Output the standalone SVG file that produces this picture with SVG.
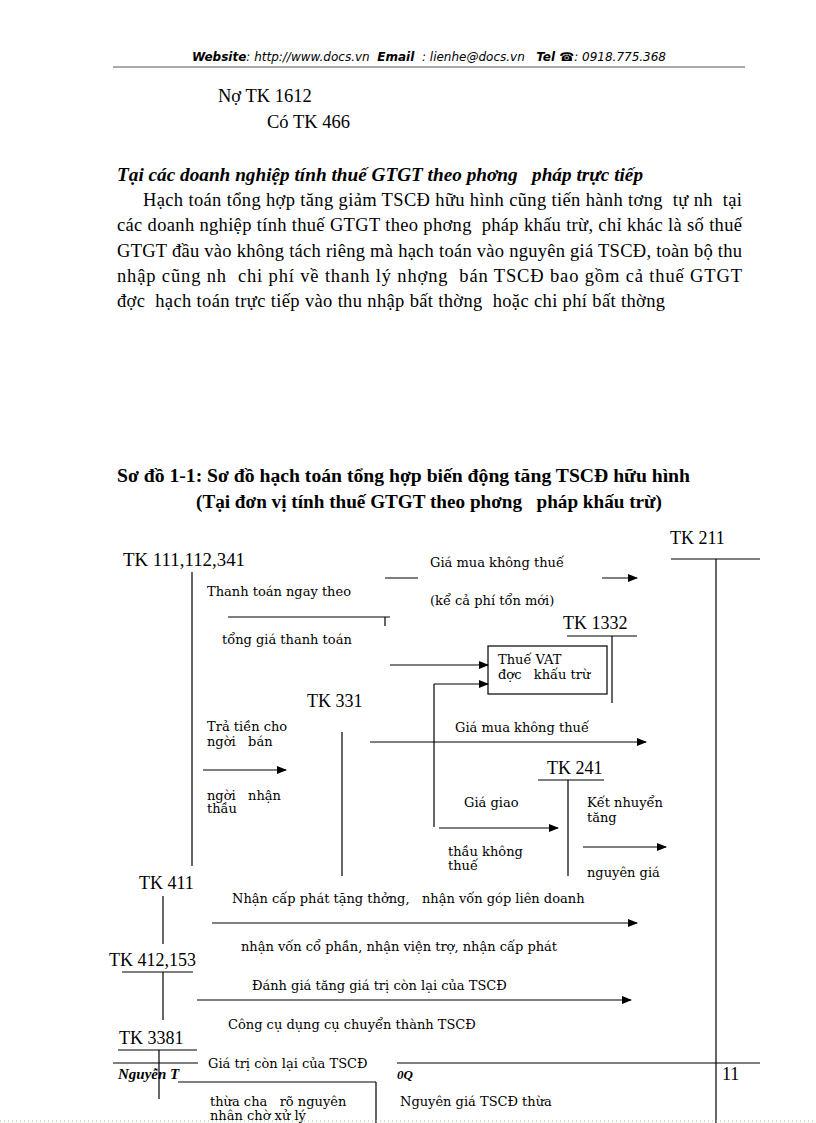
<svg xmlns="http://www.w3.org/2000/svg" width="816" height="1123" viewBox="0 0 816 1123">
<defs>
<marker id="ah" markerWidth="10" markerHeight="8" refX="9" refY="4" orient="auto" markerUnits="userSpaceOnUse">
<path d="M0,0 L10,4 L0,8 Z" fill="#000"/>
</marker>
<style>
text{white-space:pre;fill:#000}
.hd{font-size:12px;font-style:italic}
.hb{font-weight:bold}
.t{font-size:18.5px}
.bi{font-size:19px;font-style:italic;font-weight:bold}
.b{font-size:18px;font-weight:bold}
.tk{font-size:18px}
.s{font-size:13px}
.ln{stroke:#000;stroke-width:1.2;fill:none}
.ar{stroke:#000;stroke-width:1.2;fill:none;marker-end:url(#ah)}
</style>
</defs>
<rect width="816" height="1123" fill="#fff"/>

<g id="header" font-family="DejaVu Sans, Liberation Sans, sans-serif">
<text x="192" y="61" class="hd" textLength="474" lengthAdjust="spacingAndGlyphs"><tspan class="hb">Website</tspan>: http://www.docs.vn  <tspan class="hb">Email</tspan>  : lienhe@docs.vn   <tspan class="hb">Tel ☎</tspan>: 0918.775.368</text>
<line x1="113" y1="67" x2="745" y2="67" stroke="#555" stroke-width="1"/>
</g>

<g id="text-body" font-family="Liberation Serif, Times New Roman, serif">
<text x="218" y="102" class="t">Nợ TK 1612</text>
<text x="267" y="128" class="t">Có TK 466</text>
<text x="117" y="181" class="bi" textLength="526" lengthAdjust="spacingAndGlyphs">Tại các doanh nghiệp tính thuế GTGT theo phơng   pháp trực tiếp</text>
<text x="143" y="206" class="t" textLength="599" lengthAdjust="spacing">Hạch toán tổng hợp tăng giảm TSCĐ hữu hình cũng tiến hành tơng  tự nh  tại</text>
<text x="117" y="231" class="t" textLength="625" lengthAdjust="spacing">các doanh nghiệp tính thuế GTGT theo phơng  pháp khấu trừ, chỉ khác là số thuế</text>
<text x="117" y="257" class="t" textLength="625" lengthAdjust="spacing">GTGT đầu vào không tách riêng mà hạch toán vào nguyên giá TSCĐ, toàn bộ thu</text>
<text x="117" y="282" class="t" textLength="625" lengthAdjust="spacing">nhập cũng nh  chi phí về thanh lý nhợng  bán TSCĐ bao gồm cả thuế GTGT</text>
<text x="117" y="307" class="t" textLength="548" lengthAdjust="spacing">đợc  hạch toán trực tiếp vào thu nhập bất thờng  hoặc chi phí bất thờng</text>
<text x="117" y="482" class="b" textLength="573" lengthAdjust="spacingAndGlyphs">Sơ đồ 1-1: Sơ đồ hạch toán tổng hợp biến động tăng TSCĐ hữu hình</text>
<text x="196" y="508" class="b" textLength="466" lengthAdjust="spacingAndGlyphs">(Tại đơn vị tính thuế GTGT theo phơng   pháp khấu trừ)</text>
</g>

<g font-family="Liberation Serif, Times New Roman, serif">
<g id="tk211">
<text x="670" y="544" class="tk">TK 211</text>
<line x1="671" y1="559" x2="760" y2="559" class="ln"/>
<line x1="716" y1="559" x2="716" y2="1123" class="ln"/>
</g>
<g id="tk111">
<text x="123" y="566" class="tk" textLength="122" lengthAdjust="spacingAndGlyphs">TK 111,112,341</text>
<line x1="192" y1="572" x2="192" y2="866" class="ln"/>
</g>
<g id="tk1332">
<text x="563" y="629" class="tk">TK 1332</text>
<line x1="567" y1="636" x2="637" y2="636" class="ln"/>
<line x1="612" y1="636" x2="612" y2="703" class="ln"/>
</g>
<g id="tk331">
<text x="307" y="707" class="tk">TK 331</text>
<line x1="342" y1="732" x2="342" y2="876" class="ln"/>
</g>
<g id="tk241">
<text x="547" y="774" class="tk">TK 241</text>
<line x1="538" y1="780" x2="604" y2="780" class="ln"/>
<line x1="568" y1="780" x2="568" y2="876" class="ln"/>
</g>
<g id="tk411">
<text x="139" y="889" class="tk">TK 411</text>
<line x1="163" y1="896" x2="163" y2="944" class="ln"/>
</g>
<g id="tk412">
<text x="109" y="966" class="tk">TK 412,153</text>
<line x1="122" y1="972" x2="193" y2="972" class="ln"/>
<line x1="163" y1="972" x2="163" y2="1020" class="ln"/>
</g>
<g id="tk3381">
<text x="119" y="1044" class="tk">TK 3381</text>
<line x1="118" y1="1050" x2="197" y2="1050" class="ln"/>
<line x1="159" y1="1050" x2="159" y2="1099" class="ln"/>
</g>
</g>

<g id="vat-box" font-family="DejaVu Serif, serif">
<rect x="488" y="646" width="119" height="48" fill="#fff" stroke="#000" stroke-width="1.2"/>
<text x="498" y="664" class="s">Thuế VAT</text>
<text x="498" y="679" class="s">đợc   khấu trừ</text>
</g>

<g id="connectors">
<line x1="385" y1="578" x2="418" y2="578" class="ln"/>
<line x1="602" y1="578" x2="637" y2="578" class="ar"/>
<line x1="228" y1="617" x2="390" y2="617" class="ln"/>
<line x1="385" y1="617" x2="385" y2="626" class="ln"/>
<line x1="390" y1="665" x2="488" y2="665" class="ar"/>
<line x1="434" y1="684" x2="488" y2="684" class="ar"/>
<line x1="434" y1="684" x2="434" y2="827" class="ln"/>
<line x1="439" y1="828" x2="558" y2="828" class="ar"/>
<line x1="203" y1="770" x2="286" y2="770" class="ar"/>
<line x1="370" y1="742" x2="646" y2="742" class="ar"/>
<line x1="583" y1="847" x2="666" y2="847" class="ar"/>
<line x1="212" y1="923" x2="637" y2="923" class="ar"/>
<line x1="197" y1="1000" x2="631" y2="1000" class="ar"/>
<line x1="178" y1="1082" x2="376" y2="1082" class="ln"/>
<line x1="376" y1="1082" x2="376" y2="1123" class="ln"/>
</g>

<g id="labels" font-family="DejaVu Serif, serif">
<text x="430" y="567" class="s">Giá mua không thuế</text>
<text x="207" y="596" class="s">Thanh toán ngay theo</text>
<text x="430" y="605" class="s">(kể cả phí tổn mới)</text>
<text x="222" y="644" class="s">tổng giá thanh toán</text>
<text x="207" y="731" class="s">Trả tiền cho</text>
<text x="207" y="746" class="s">ngời   bán</text>
<text x="455" y="732" class="s">Giá mua không thuế</text>
<text x="207" y="800" class="s">ngời   nhận</text>
<text x="207" y="813" class="s">thầu</text>
<text x="464" y="807" class="s">Giá giao</text>
<text x="587" y="807" class="s">Kết nhuyển</text>
<text x="587" y="822" class="s">tăng</text>
<text x="448" y="856" class="s">thầu không</text>
<text x="448" y="870" class="s">thuế</text>
<text x="587" y="877" class="s">nguyên giá</text>
<text x="232" y="903" class="s">Nhận cấp phát tặng thởng,   nhận vốn góp liên doanh</text>
<text x="241" y="951" class="s">nhận vốn cổ phần, nhận viện trợ, nhận cấp phát</text>
<text x="252" y="990" class="s">Đánh giá tăng giá trị còn lại của TSCĐ</text>
<text x="228" y="1029" class="s">Công cụ dụng cụ chuyển thành TSCĐ</text>
<text x="208" y="1068" class="s">Giá trị còn lại của TSCĐ</text>
<text x="210" y="1106" class="s">thừa cha   rõ nguyên</text>
<text x="210" y="1120" class="s">nhân chờ xử lý</text>
<text x="400" y="1106" class="s">Nguyên giá TSCĐ thừa</text>
</g>

<g id="footer" font-family="Liberation Serif, Times New Roman, serif">
<line x1="113" y1="1063" x2="198" y2="1063" class="ln"/>
<line x1="397" y1="1063" x2="760" y2="1063" class="ln"/>
<text x="118" y="1079" font-size="15" font-style="italic" font-weight="bold">Nguyễn T</text>
<text x="397" y="1079" font-size="13" font-style="italic" font-weight="bold">0Q</text>
<text x="722" y="1080" class="tk">11</text>
<line x1="0" y1="1121" x2="816" y2="1121" stroke="#9c9" stroke-width="1" stroke-dasharray="1,3"/>
</g>
</svg>
